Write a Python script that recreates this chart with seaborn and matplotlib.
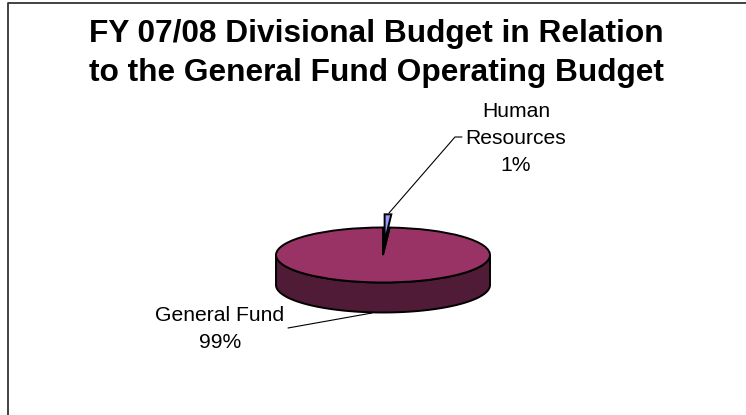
import numpy as np
import matplotlib
matplotlib.use("Agg")
import matplotlib.pyplot as plt
from matplotlib.patches import Polygon, Wedge
from matplotlib.lines import Line2D
import seaborn as sns

# Budget shares
categories = ["General Fund", "Human Resources"]
shares = [99, 1]
pct_labels = ["99%", "1%"]
title_lines = ["FY 07/08 Divisional Budget in Relation",
               "to the General Fund Operating Budget"]

top_colors = ["#993366", "#9999FF"]
side_colors = ["#501B36", "#4D4D80"]

sns.set_theme(style="white")
plt.rcParams["font.family"] = ["Liberation Sans", "DejaVu Sans"]

W, H = 746, 415
fig = plt.figure(figsize=(W / 100, H / 100), dpi=100)
fig.patch.set_facecolor("white")

# Pie axes: unit radius maps to an ellipse of 107 x 27.5 px centred at (383, 255)
cx, cy, rx, ry, depth_px = 383, 255, 107, 27.5, 30
ax = fig.add_axes([0, 0, 1, 1])
depth = depth_px / ry

wedges, _ = ax.pie(shares, startangle=90, counterclock=True,
                   explode=[0, 0.48], colors=top_colors,
                   wedgeprops=dict(edgecolor="black", linewidth=1.4))
ax.set_aspect("auto")
ax.set_xlim(-cx / rx, (W - cx) / rx)
ax.set_ylim((cy - H) / ry, cy / ry)
ax.axis("off")

# Side walls of the disc (front half only)
for w, sc in zip(wedges[:1], side_colors[:1]):
    t1, t2 = w.theta1, w.theta2
    segs = []
    for k in range(-1, 2):
        a = max(t1, 180 + 360 * k)
        b = min(t2, 360 + 360 * k)
        if b > a:
            segs.append((a, b))
    for a, b in segs:
        t = np.radians(np.linspace(a, b, 200))
        ox, oy = w.center
        top = np.column_stack([ox + np.cos(t), oy + np.sin(t)])
        bot = np.column_stack([ox + np.cos(t[::-1]), oy + np.sin(t[::-1]) - depth])
        ax.add_patch(Polygon(np.vstack([top, bot]), closed=True,
                             facecolor=sc, edgecolor="black",
                             linewidth=1.4, zorder=1))

wedges[0].set_zorder(2)

# Opening left in the disc by the pulled-out slice
hr = wedges[1]
ax.add_patch(Wedge((0, 0), 1, hr.theta1, hr.theta2, facecolor="black",
                   edgecolor="black", linewidth=1.0, zorder=3))
hr.set_zorder(4)

# Overlay in pixel coordinates for text and leader lines
ov = fig.add_axes([0, 0, 1, 1])
ov.set_xlim(0, W)
ov.set_ylim(H, 0)
ov.axis("off")
ov.patch.set_alpha(0)

# Title
for i, line in enumerate(title_lines):
    ov.text(376, 41.7 + 39.3 * i, line, ha="center", va="baseline",
            fontsize=22.8, fontweight="bold", color="black")

# Data labels
lab_fs = 15.2
hr_lines = ["Human", "Resources", pct_labels[1]]
for i, s in enumerate(hr_lines):
    ov.text(516, 116.7 + 27.3 * i, s, ha="center", va="baseline",
            fontsize=lab_fs, color="black")
gf_lines = ["General Fund", pct_labels[0]]
for i, s in enumerate(gf_lines):
    ov.text(220, 321 + 27.3 * i, s, ha="center", va="baseline",
            fontsize=lab_fs, color="black")

# Leader lines
ov.add_line(Line2D([389, 455, 462], [213, 137, 137], color="black", lw=0.8))
ov.add_line(Line2D([288, 372], [328, 313], color="black", lw=0.8))

# Chart area border
ov.add_line(Line2D([8, 8, W], [H, 3, 3], color="#333333", lw=1.3))

fig.savefig("out.png", dpi=100, facecolor="white")
